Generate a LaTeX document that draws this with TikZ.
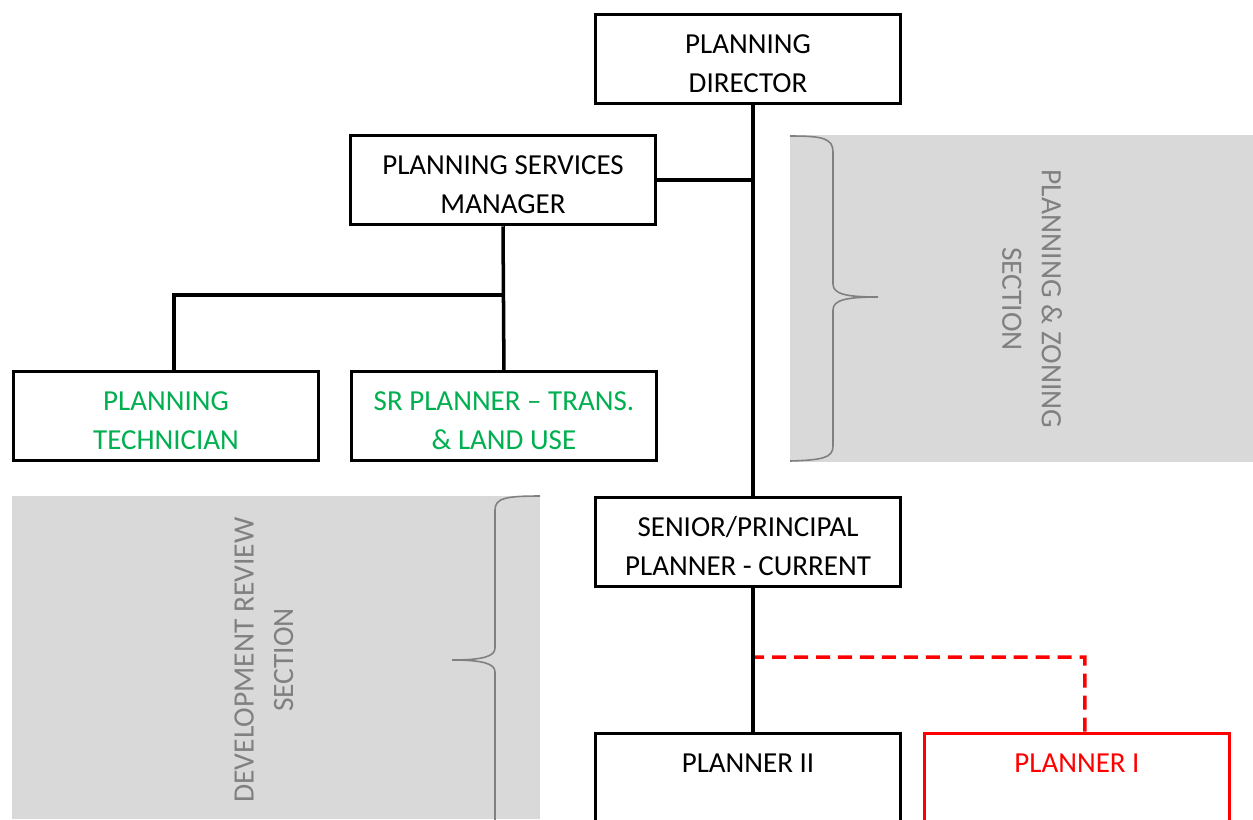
\documentclass[tikz,border=0pt]{standalone}
\usepackage{fontspec}
\setmainfont{Carlito}
\usetikzlibrary{positioning}
\definecolor{sectgray}{HTML}{D9D9D9}
\definecolor{secttext}{HTML}{808080}
\definecolor{jobgreen}{HTML}{00B050}

\begin{document}
\begin{tikzpicture}[x=0.02cm, y=-0.02cm, on grid,
    post/.style={draw, fill=white, line width=2pt, minimum width=6.1cm, minimum height=1.78cm,
                 align=center, inner sep=0pt, text height=37.8pt, text depth=0pt,
                 font=\fontsize{16.5}{22}\selectfont},
    link/.style={line width=2pt},
    dotted link/.style={draw=red, line width=2pt, dash pattern=on 8pt off 4.5pt},
    section/.style={fill=sectgray},
    section label/.style={text=secttext, align=center, font=\fontsize{16.8}{22.5}\selectfont},
    bracket/.style={draw=secttext, line width=0.9pt}]
    \clip (0,0) rectangle (1253,819);

    % sections in the background
    \fill[section] (790,135) rectangle (1253,462);
    \fill[section] (12,496) rectangle (540,819);
    \draw[bracket] (790,136) .. controls (822,136) and (833,138) .. (833,152) -- (833,284)
        .. controls (833,294) and (846,297) .. (878,297)
        .. controls (846,297) and (833,300) .. (833,310) -- (833,446)
        .. controls (833,458) and (822,460) .. (790,461);
    \draw[bracket] (540,496) .. controls (506,496) and (495,498) .. (495,510) -- (495,648)
        .. controls (495,656) and (484,660) .. (452,660)
        .. controls (484,660) and (495,664) .. (495,672) -- (495,830);
    \node[section label, rotate=-90] (pzlabel) at (1032,299) {PLANNING \& ZONING\\SECTION};
    \node[section label, rotate=90] (drlabel) at (264,660) {DEVELOPMENT REVIEW\\SECTION};

    % positions
    \node[post] (dir) at (748,59) {PLANNING\\DIRECTOR};
    \node[post] (psm) at (503,180) {PLANNING SERVICES\\MANAGER};
    \node[post, text=jobgreen] (tech) at (166,416) {PLANNING\\TECHNICIAN};
    \node[post, text=jobgreen] (sr) [right=6.76cm of tech] {SR PLANNER -- TRANS.\\\& LAND USE};
    \node[post] (sen) at (748,542) {SENIOR/PRINCIPAL\\PLANNER - CURRENT};
    \node[post] (p2) [below=4.72cm of sen] {PLANNER II\\\mbox{}};
    \node[post, draw=red, text=red] (p1) [right=6.58cm of p2] {PLANNER I\\\mbox{}};

    \coordinate (psmjoin) at (503,295);
    \coordinate (p1bend) at (753,657);

    % reporting lines
    \draw[dotted link] ([xshift=0.1cm]sen.south) -- (p1bend) -| ([xshift=0.16cm]p1.north);
    \draw[link] ([xshift=0.1cm]dir.south) -- ([xshift=0.1cm]sen.north);
    \draw[link] (psm.east) -- ([xshift=0.1cm]psm.east -| dir.south);
    \draw[link] (psm.south) -- (sr.north);
    \draw[link] ([xshift=0.16cm]tech.north) |- (psmjoin);
    \draw[link] ([xshift=0.1cm]sen.south) -- ([xshift=0.1cm]p2.north);
\end{tikzpicture}
\end{document}
